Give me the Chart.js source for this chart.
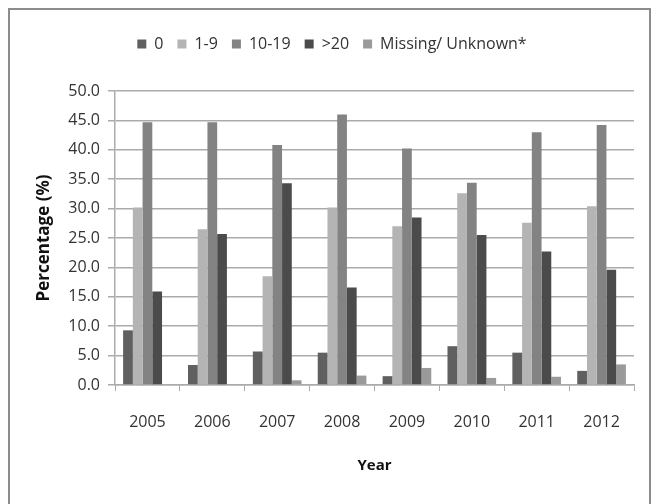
<html lang="en">
<head>
  <meta charset="UTF-8">
  <title>Percentage by year</title>
  <script src="https://cdn.jsdelivr.net/npm/chart.js"></script>
  <style>
    body { margin: 0; background: #fff; }
    #wrap { position: relative; width: 653px; height: 504px; }
    #frame { position: absolute; left: 8px; top: 8px; width: 643px; height: 500px;
             border: 2px solid #8c8c8c; box-sizing: border-box; pointer-events: none; }
  </style>
</head>
<body>
  <div id="wrap">
    <canvas id="barChart" width="653" height="504"></canvas>
    <div id="frame"></div>
  </div>

  <script>
    // data
    const years = ['2005', '2006', '2007', '2008', '2009', '2010', '2011', '2012'];
    const zero = [9.3, 3.4, 5.7, 5.5, 1.5, 6.6, 5.5, 2.4];
    const oneToNine = [30.2, 26.5, 18.5, 30.2, 27.0, 32.6, 27.6, 30.4];
    const tenToNineteen = [44.7, 44.7, 40.8, 46.0, 40.2, 34.4, 43.0, 44.2];
    const overTwenty = [15.9, 25.7, 34.3, 16.6, 28.5, 25.5, 22.7, 19.6];
    const missing = [0, 0, 0.8, 1.6, 2.9, 1.2, 1.4, 3.5];

    const fontFamily = "'Open Sans', sans-serif";
    const gridColor = '#ababab';

    // pad legend so the plot starts lower
    const legendMargin = {
      id: 'legendMargin',
      beforeInit(chart) {
        const fit = chart.legend.fit;
        chart.legend.fit = function () {
          fit.bind(chart.legend)();
          this.height += 29;
        };
      }
    };

    let ctx = document.getElementById('barChart').getContext('2d');

    let barChart = new Chart(ctx, {
      type: 'bar',
      data: {
        labels: years,
        datasets: [
          { label: '0', data: zero, backgroundColor: '#606060' },
          { label: '1-9', data: oneToNine, backgroundColor: '#b4b4b4' },
          { label: '10-19', data: tenToNineteen, backgroundColor: '#838383' },
          { label: '>20', data: overTwenty, backgroundColor: '#4b4b4b' },
          { label: 'Missing/ Unknown*', data: missing, backgroundColor: '#9a9a9a' }
        ]
      },
      options: {
        responsive: false,
        animation: false,
        layout: { padding: { left: 30, top: 22, right: 19, bottom: 29 } },
        datasets: { bar: { categoryPercentage: 0.75, barPercentage: 1.0 } },
        plugins: {
          tooltip: { enabled: false },
          legend: {
            position: 'top',
            labels: {
              boxWidth: 9,
              boxHeight: 9,
              padding: 14,
              color: '#333',
              font: { family: fontFamily, size: 16 }
            }
          }
        },
        scales: {
          x: {
            offset: true,
            grid: { offset: true, drawOnChartArea: false, drawTicks: true, tickLength: 6, color: gridColor },
            border: { color: gridColor, width: 1.5 },
            ticks: { color: '#333', padding: 22, font: { family: fontFamily, size: 16 } },
            title: { display: true, text: 'Year', color: '#111', padding: { top: 0, bottom: 0 },
                     font: { family: fontFamily, size: 15, weight: 'bold' } },
            afterFit(scale) { scale.height = 90; }
          },
          y: {
            min: 0,
            max: 50,
            grid: { color: gridColor, lineWidth: 1.5, tickLength: 7 },
            border: { color: gridColor, width: 1.5 },
            ticks: {
              stepSize: 5,
              padding: 8,
              color: '#333',
              font: { family: fontFamily, size: 16 },
              callback: (v) => v.toFixed(1)
            },
            title: { display: true, text: 'Percentage (%)', color: '#111', padding: { top: 4, bottom: 0 },
                     font: { family: fontFamily, size: 17, weight: 'bold' } },
            afterFit(scale) { scale.width = 85; }
          }
        }
      },
      plugins: [legendMargin]
    });
  </script>
</body>
</html>
